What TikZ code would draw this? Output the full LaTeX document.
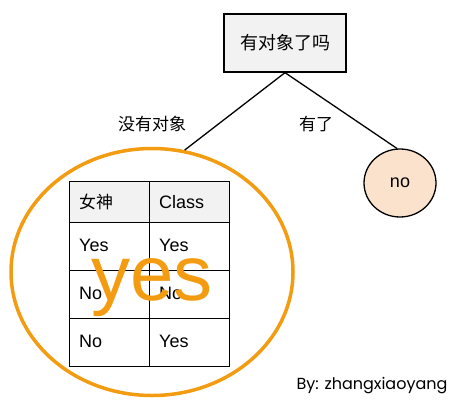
\documentclass[tikz,border=0pt]{standalone}
\usepackage{fontspec}
\setmainfont{Liberation Sans}
\newfontfamily\cjk{Noto Sans CJK SC}
\newfontfamily\byfont{Poppins}
\usetikzlibrary{shapes.geometric}
\definecolor{orng}{RGB}{243,156,18}
\definecolor{boxgray}{RGB}{242,242,242}
\definecolor{nofill}{RGB}{250,226,204}
\tikzset{
  lbl/.style={font=\cjk\fontsize{17}{20}\selectfont, inner sep=0pt},
  cell/.style={draw=black, line width=0.8pt},
  celltxt/.style={anchor=west, inner sep=0pt, font=\fontsize{18}{21}\selectfont},
  conn/.style={draw=black, line width=1.3pt}
}
\begin{document}
\begin{tikzpicture}[x=1pt,y=-1pt]
\useasboundingbox (0,0) rectangle (470,409);
% root box
\node[draw=black, line width=1.3pt, fill=boxgray, minimum width=122pt, minimum height=58pt, inner sep=0pt,
      font=\cjk\fontsize{18}{21}\selectfont] (root) at (285,43) {有对象了吗};
% yes ellipse
\node[ellipse, draw=orng, line width=3.5pt, minimum width=282pt, minimum height=247pt, inner sep=0pt] (yesell) at (152,272) {};
% no circle
\node[ellipse, draw=black, line width=1.3pt, fill=nofill, minimum width=72pt, minimum height=68pt, inner sep=0pt,
      font=\fontsize{18}{21}\selectfont] (nonode) at (400,183) {no};
% connectors
\draw[conn] (root.south) -- (yesell.75);
\draw[conn] (root.south) -- (nonode.95);
% edge labels
\node[lbl] (lblA) at (152,124) {没有对象};
\node[lbl] (lblB) at (316,124) {有了};
% table
\fill[boxgray] (69,181) rectangle (229,222);
\draw[cell] (69,181) rectangle (149,222);
\draw[cell] (149,181) rectangle (229,222);
\draw[cell] (69,222) rectangle (149,270);
\draw[cell] (149,222) rectangle (229,270);
\draw[cell] (69,270) rectangle (149,318);
\draw[cell] (149,270) rectangle (229,318);
\draw[cell] (69,318) rectangle (149,366);
\draw[cell] (149,318) rectangle (229,366);
\node[celltxt, font=\cjk\fontsize{17}{20}\selectfont] (h1) at (79,202) {女神};
\node[celltxt] (h2) at (159,202) {Class};
\node[celltxt] (r1a) at (79,245) {Yes};
\node[celltxt] (r1b) at (159,245) {Yes};
\node[celltxt] (r2a) at (79,293) {No};
\node[celltxt] (r2b) at (159,293) {No};
\node[celltxt] (r3a) at (79,341) {No};
\node[celltxt] (r3b) at (159,341) {Yes};
% big yes
\node[anchor=base, inner sep=0pt, text=orng, font=\fontsize{78}{80}\selectfont] (bigyes) at (152,300) {yes};
% author
\node[inner sep=0pt, font=\byfont\fontsize{16}{19}\selectfont] (author) at (372,386) {By: zhangxiaoyang};
\end{tikzpicture}
\end{document}
